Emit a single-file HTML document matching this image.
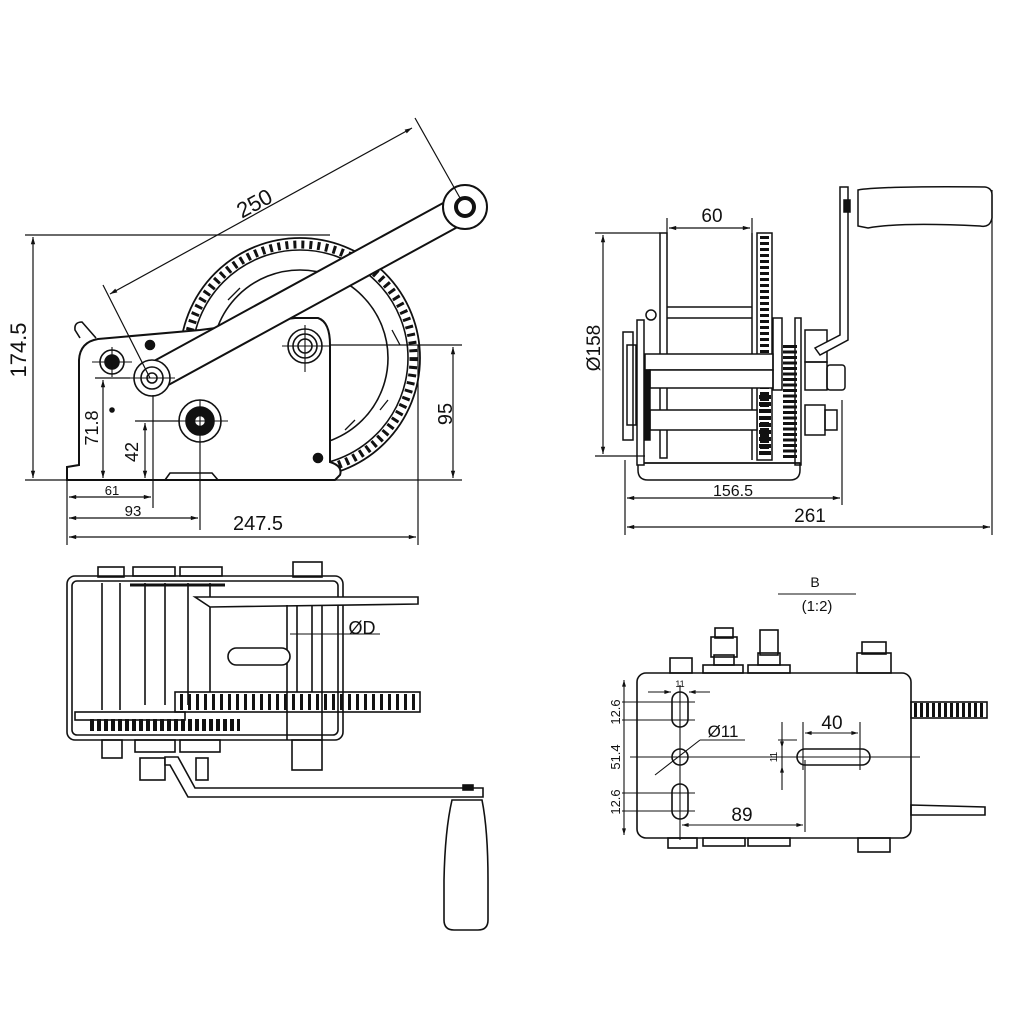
<!DOCTYPE html>
<html><head><meta charset="utf-8"><style>
html,body{margin:0;padding:0;background:#fff}
svg{display:block}
text{font-family:"Liberation Sans",sans-serif;fill:#111}
</style></head><body>
<svg width="1024" height="1024" viewBox="0 0 1024 1024" xmlns="http://www.w3.org/2000/svg">
<defs>
<marker id="a" viewBox="0 0 10 10" refX="10" refY="5" markerWidth="8" markerHeight="6" orient="auto-start-reverse"><path d="M0,2 L10,5 L0,8 Z" fill="#111"/></marker>
</defs>
<g fill="none" stroke="#111" stroke-width="1.6">

<!-- ============ TOP LEFT VIEW ============ -->
<circle cx="300" cy="358" r="120" stroke-width="1.8"/>
<circle cx="300" cy="358" r="113.5" stroke-width="8" stroke-dasharray="3 5"/>
<circle cx="300" cy="358" r="108" stroke-width="1.6"/>
<circle cx="300" cy="358" r="88" stroke-width="1.6"/>
<path d="M228,300 L240,288 M392,330 L400,345 M380,410 L388,400 M345,430 L355,420" stroke-width="1.3"/>
<path d="M67,480 L67,467 L79,465 L79,360 Q80,342 98,339 L200,330 L295,318 L318,318 Q330,322 330,345 L330,462 Q343,466 340,475 L335,480 Z" fill="#fff" stroke-width="2"/>
<path d="M80,338 L75,330 Q74,322 82,322 L96,338" fill="#fff"/>
<path d="M165,480 L170,473 L212,473 L218,480"/>
<g transform="translate(152,378) rotate(-28.65)">
<rect x="0" y="-14" width="357" height="28" fill="#fff" stroke-width="2"/>
</g>
<circle cx="465" cy="207" r="22" fill="#fff" stroke-width="2"/>
<circle cx="465" cy="207" r="9" stroke-width="4"/>
<circle cx="112" cy="362" r="12"/><circle cx="112" cy="362" r="7" fill="#111"/>
<circle cx="152" cy="378" r="18" fill="#fff"/><circle cx="152" cy="378" r="11"/><circle cx="152" cy="378" r="5"/>
<circle cx="200" cy="421" r="21"/><circle cx="200" cy="421" r="14" fill="#111"/><circle cx="200" cy="421" r="4" fill="#fff" stroke="#fff"/>
<circle cx="305" cy="346" r="17"/><circle cx="305" cy="346" r="12"/><circle cx="305" cy="346" r="7"/>
<circle cx="150" cy="345" r="4.5" fill="#111"/><circle cx="318" cy="458" r="4.5" fill="#111"/><circle cx="112" cy="410" r="2" fill="#111"/>
<g stroke-width="1.1">
<path d="M92,362 L132,362 M112,347 L112,377 M130,378 L175,378 M180,421 L228,421 M200,400 L200,440 M282,346 L330,346 M305,325 L305,372"/>
</g>
<g stroke-width="1.2">
<path d="M25,235 L330,235 M25,480 L462,480"/>
<path d="M33,237 L33,478" marker-start="url(#a)" marker-end="url(#a)"/>
<path d="M330,345 L462,345"/>
<path d="M453,347 L453,478" marker-start="url(#a)" marker-end="url(#a)"/>
<path d="M95,378 L130,378"/>
<path d="M103,380 L103,478" marker-start="url(#a)" marker-end="url(#a)"/>
<path d="M135,421 L180,421"/>
<path d="M145,423 L145,478" marker-start="url(#a)" marker-end="url(#a)"/>
<path d="M67,480 L67,545 M153,395 L153,508 M200,440 L200,530 M418,345 L418,545"/>
<path d="M69,497 L151,497" marker-start="url(#a)" marker-end="url(#a)"/>
<path d="M69,518 L198,518" marker-start="url(#a)" marker-end="url(#a)"/>
<path d="M69,537 L416,537" marker-start="url(#a)" marker-end="url(#a)"/>
<path d="M103,285 L150,378 M415,118 L460,198"/>
<path d="M110,294 L412,128" marker-start="url(#a)" marker-end="url(#a)"/>
</g>

<!-- ============ TOP RIGHT VIEW ============ -->
<g stroke-width="1.5">
<rect x="660" y="233" width="7" height="225" fill="#fff"/>
<path d="M667,307 L752,307 M667,318 L752,318 M752,233 L752,460"/>
<rect x="757" y="233" width="15" height="227"/>
<path d="M764.5,236 L764.5,458" stroke-width="9" stroke-dasharray="3 3"/>
<path d="M638,463 L638,470 Q638,480 648,480 L790,480 Q800,480 800,470 L800,463 Z"/>
<path d="M638,463 L800,463"/>
<rect x="637" y="320" width="7" height="145" fill="#fff"/>
<rect x="623" y="332" width="10" height="108"/>
<rect x="627" y="345" width="9" height="80"/>
<rect x="645" y="354" width="128" height="16" fill="#fff"/>
<rect x="650" y="370" width="123" height="18" fill="#fff"/>
<rect x="650" y="410" width="107" height="20" fill="#fff"/>
<path d="M644,370 L650,370 L650,440 L644,440" fill="#111"/>
<rect x="773" y="318" width="9" height="72"/>
<rect x="795" y="318" width="6" height="147"/>
<path d="M790,345 L790,460" stroke-width="14" stroke-dasharray="3 2.5"/>
<path d="M765,395 L765,458" stroke-width="12" stroke-dasharray="4 3"/>
<rect x="805" y="330" width="22" height="32"/>
<rect x="805" y="362" width="22" height="28"/>
<rect x="827" y="365" width="18" height="25" rx="3"/>
<rect x="805" y="405" width="20" height="30"/>
<rect x="825" y="410" width="12" height="20"/>
<path d="M848,187 L848,340 L820,355 L815,348 L840,335 L840,187 Z" fill="#fff"/>
<path d="M858,190 Q880,186 985,187 Q992,188 992,195 L992,218 Q990,228 980,226 Q900,222 868,228 L858,226 Z" fill="#fff"/>
<rect x="844" y="200" width="6" height="12" fill="#111"/>
<circle cx="651" cy="315" r="5" fill="#fff"/>
</g>
<g stroke-width="1.2">
<path d="M595,233 L660,233 M595,456 L645,456"/>
<path d="M603,235 L603,454" marker-start="url(#a)" marker-end="url(#a)"/>
<path d="M667,218 L667,240 M752,218 L752,233"/>
<path d="M669,228 L750,228" marker-start="url(#a)" marker-end="url(#a)"/>
<path d="M625,460 L625,535 M842,400 L842,505 M992,190 L992,535"/>
<path d="M627,498 L840,498" marker-start="url(#a)" marker-end="url(#a)"/>
<path d="M627,527 L990,527" marker-start="url(#a)" marker-end="url(#a)"/>
</g>

<!-- ============ BOTTOM LEFT VIEW ============ -->
<g stroke-width="1.6">
<rect x="67" y="576" width="276" height="164" rx="8"/>
<rect x="72" y="581" width="266" height="154" rx="5"/>
<path d="M102,583 L102,710 M120,583 L120,710 M145,583 L145,705 M165,583 L165,705 M188,583 L188,705 M210,583 L210,692"/>
<path d="M130,585 L225,585" stroke-width="3"/>
<rect x="98" y="567" width="26" height="10"/>
<rect x="133" y="567" width="42" height="9"/><rect x="180" y="567" width="42" height="9"/>
<rect x="293" y="562" width="29" height="15"/>
<path d="M195,597 L418,597 L418,604 L210,607 Z" fill="#fff"/>
<path d="M287,605 L287,692 M297,605 L297,692 M312,605 L312,692 M322,605 L322,692 M287,692 L287,740 M322,692 L322,740"/>
<rect x="228" y="648" width="62" height="17" rx="8.5" fill="#fff"/>
<rect x="175" y="692" width="245" height="20"/>
<path d="M180,702 L418,702" stroke-width="16" stroke-dasharray="3 5"/>
<rect x="75" y="712" width="110" height="8"/>
<path d="M90,725 L240,725" stroke-width="12" stroke-dasharray="4 3"/>
<rect x="102" y="740" width="20" height="18"/>
<rect x="135" y="740" width="40" height="12"/><rect x="180" y="740" width="40" height="12"/>
<rect x="140" y="758" width="25" height="22"/>
<rect x="292" y="740" width="30" height="30"/>
<path d="M165,757 L178,757 L195,788 L483,788 L483,797 L188,797 L170,765 L165,765 Z" fill="#fff"/>
<rect x="196" y="758" width="12" height="22"/>
<rect x="463" y="785" width="10" height="5" fill="#111"/>
<path d="M452,800 L482,800 Q488,830 488,880 L488,920 Q488,930 478,930 L454,930 Q444,930 444,920 L444,880 Q445,830 452,800 Z" fill="#fff"/>
</g>
<path d="M290,634 L380,634" stroke-width="1.1"/>

<!-- ============ BOTTOM RIGHT VIEW ============ -->
<g stroke-width="1.6">
<rect x="637" y="673" width="274" height="165" rx="9"/>
<rect x="670" y="658" width="22" height="15"/>
<rect x="703" y="665" width="40" height="8"/><rect x="748" y="665" width="42" height="8"/>
<rect x="711" y="637" width="26" height="20"/><rect x="715" y="628" width="18" height="10"/><rect x="714" y="655" width="20" height="10"/>
<rect x="760" y="630" width="18" height="25"/><rect x="758" y="653" width="22" height="12"/>
<rect x="857" y="653" width="34" height="20"/><rect x="862" y="642" width="24" height="12"/>
<rect x="668" y="838" width="29" height="10"/>
<rect x="703" y="838" width="42" height="8"/><rect x="748" y="838" width="42" height="8"/>
<rect x="858" y="838" width="32" height="14"/>
<rect x="911" y="702" width="76" height="16"/>
<path d="M914,710 L986,710" stroke-width="14" stroke-dasharray="3 3"/>
<path d="M911,805 L985,807 L985,815 L911,815 Z"/>
<rect x="672" y="692" width="16" height="35" rx="8"/>
<circle cx="680" cy="757" r="8"/>
<rect x="672" y="784" width="16" height="35" rx="8"/>
<rect x="797" y="749" width="73" height="16" rx="8"/>
</g>
<g stroke-width="1.1">
<path d="M630,757 L920,757 M680,685 L680,840 M778,740 L797,740"/>
<path d="M622,702 L695,702 M622,720 L695,720 M622,793 L695,793 M622,811 L695,811"/>
<path d="M624,680 L624,835" marker-start="url(#a)" marker-end="url(#a)"/>
<path d="M648,692 L671,692" marker-end="url(#a)"/><path d="M710,692 L689,692" marker-end="url(#a)"/>
<path d="M700,740 L745,740 M655,775 L700,740"/>
<path d="M782,722 L782,748" marker-end="url(#a)"/><path d="M782,790 L782,766" marker-end="url(#a)"/><path d="M782,748 L782,766"/>
<path d="M803,722 L803,770 M860,722 L860,770"/>
<path d="M805,733 L858,733" marker-start="url(#a)" marker-end="url(#a)"/>
<path d="M805,760 L805,832"/>
<path d="M682,825 L803,825" marker-start="url(#a)" marker-end="url(#a)"/>
<path d="M778,594 L856,594"/>
</g>
</g>

<text x="258" y="210" font-size="22" transform="rotate(-28.65 258 210)" text-anchor="middle">250</text>
<text x="26" y="350" font-size="22" transform="rotate(-90 26 350)" text-anchor="middle">174.5</text>
<text x="98" y="428" font-size="18" transform="rotate(-90 98 428)" text-anchor="middle">71.8</text>
<text x="138" y="452" font-size="18" transform="rotate(-90 138 452)" text-anchor="middle">42</text>
<text x="452" y="414" font-size="20" transform="rotate(-90 452 414)" text-anchor="middle">95</text>
<text x="112" y="495" font-size="13" text-anchor="middle">61</text>
<text x="133" y="516" font-size="15" text-anchor="middle">93</text>
<text x="258" y="530" font-size="20" text-anchor="middle">247.5</text>
<text x="712" y="222" font-size="19" text-anchor="middle">60</text>
<text x="600" y="348" font-size="19" transform="rotate(-90 600 348)" text-anchor="middle">Ø158</text>
<text x="733" y="496" font-size="16" text-anchor="middle">156.5</text>
<text x="810" y="522" font-size="19" text-anchor="middle">261</text>
<text x="362" y="634" font-size="18" text-anchor="middle">ØD</text>
<text x="815" y="587" font-size="14" text-anchor="middle">B</text>
<text x="817" y="611" font-size="15" text-anchor="middle" font-family="Liberation Mono">(1:2)</text>
<text x="680" y="687" font-size="9" text-anchor="middle">11</text>
<text x="620" y="712" font-size="13" transform="rotate(-90 620 712)" text-anchor="middle">12.6</text>
<text x="620" y="757" font-size="13" transform="rotate(-90 620 757)" text-anchor="middle">51.4</text>
<text x="620" y="802" font-size="13" transform="rotate(-90 620 802)" text-anchor="middle">12.6</text>
<text x="723" y="737" font-size="17" text-anchor="middle">Ø11</text>
<text x="777" y="757" font-size="10" transform="rotate(-90 777 757)" text-anchor="middle">11</text>
<text x="832" y="729" font-size="19" text-anchor="middle">40</text>
<text x="742" y="821" font-size="19" text-anchor="middle">89</text>
</svg>
</body></html>
